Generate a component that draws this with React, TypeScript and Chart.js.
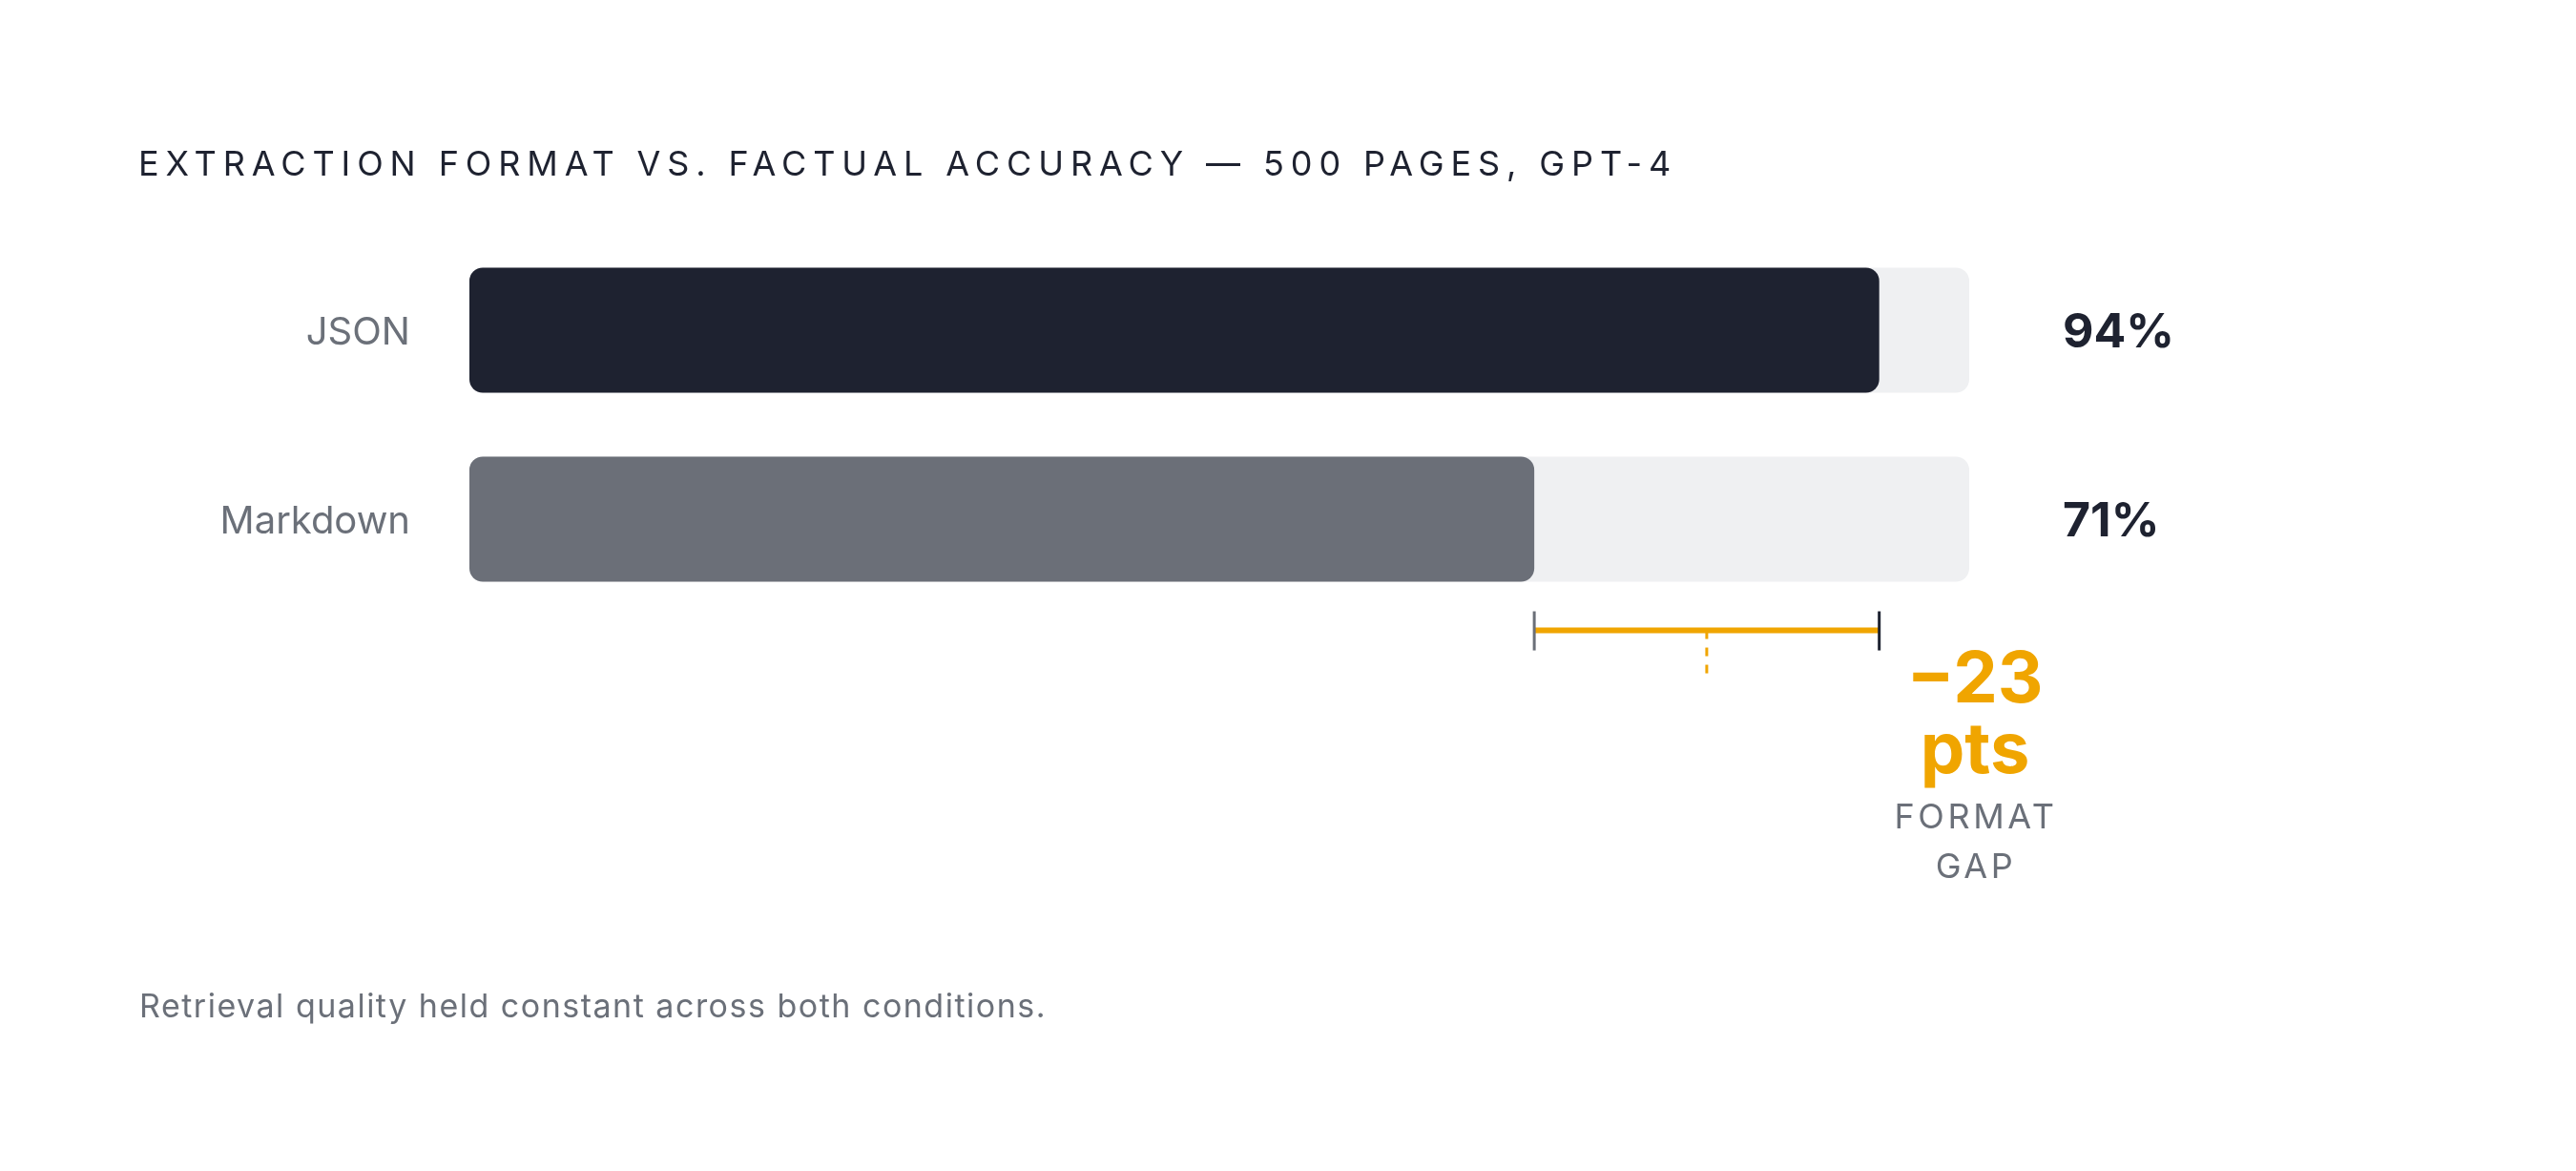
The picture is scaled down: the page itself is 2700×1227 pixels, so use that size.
import React, { useRef, useEffect } from "react";
import { Chart, registerables } from "chart.js";

Chart.register(...registerables);

const categories = ["JSON", "Markdown"];
const accuracy = [94, 71];
const trackMax = [100, 100];
const valueLabels = ["94%", "71%"];
const barColors = ["#1e2230", "#6b6f78"];

const titleText = "EXTRACTION FORMAT VS. FACTUAL ACCURACY — 500 PAGES, GPT-4";
const footnoteText = "Retrieval quality held constant across both conditions.";
const gapLabel = "\u2212" + (accuracy[0] - accuracy[1]);
const gapUnit = "pts";
const gapCaption = ["FORMAT", "GAP"];

const INK = "#1e2230";
const MUTED = "#6b7079";
const GOLD = "#f0a500";
const TRACK = "#eff0f2";
const FONT = "Inter, 'Noto Sans', sans-serif";

const overlayPlugin = {
  id: "overlay",
  afterDraw(chart: any) {
    const ctx = chart.ctx as CanvasRenderingContext2D;
    const x = chart.scales.x;
    const y = chart.scales.y;
    const area = chart.chartArea;
    ctx.save();

    // title
    ctx.fillStyle = INK;
    ctx.font = `400 36px ${FONT}`;
    (ctx as any).letterSpacing = "6.9px";
    ctx.textAlign = "left";
    ctx.textBaseline = "alphabetic";
    ctx.fillText(titleText, 145, 184);
    (ctx as any).letterSpacing = "0px";

    // category labels + values
    categories.forEach((c, i) => {
      const cy = y.getPixelForValue(i);
      ctx.fillStyle = MUTED;
      ctx.font = `400 40px ${FONT}`;
      ctx.textAlign = "right";
      ctx.fillText(c, area.left - 62, cy + 15);
      ctx.fillStyle = INK;
      ctx.font = `700 50px ${FONT}`;
      ctx.textAlign = "left";
      ctx.fillText(valueLabels[i], area.right + 98, cy + 18);
    });

    // gap bracket
    const meta = chart.getDatasetMeta(0);
    const lowBar = meta.data[1];
    const by = lowBar.y + lowBar.height / 2 + 51;
    const xl = x.getPixelForValue(accuracy[1]);
    const xr = x.getPixelForValue(accuracy[0]);
    const xm = x.getPixelForValue((accuracy[0] + accuracy[1]) / 2);

    ctx.strokeStyle = GOLD;
    ctx.lineWidth = 3;
    ctx.setLineDash([9, 9]);
    ctx.beginPath();
    ctx.moveTo(xm, by);
    ctx.lineTo(xm, by + 45);
    ctx.stroke();
    ctx.setLineDash([]);

    ctx.lineWidth = 6;
    ctx.beginPath();
    ctx.moveTo(xl, by);
    ctx.lineTo(xr, by);
    ctx.stroke();

    ctx.lineWidth = 3;
    ctx.strokeStyle = barColors[1];
    ctx.beginPath();
    ctx.moveTo(xl, by - 20);
    ctx.lineTo(xl, by + 21);
    ctx.stroke();
    ctx.strokeStyle = barColors[0];
    ctx.beginPath();
    ctx.moveTo(xr, by - 20);
    ctx.lineTo(xr, by + 21);
    ctx.stroke();

    // gap annotation
    const ax = x.getPixelForValue(100) + 6;
    ctx.textAlign = "center";
    ctx.fillStyle = GOLD;
    ctx.font = `700 74px ${FONT}`;
    ctx.fillText(gapLabel, ax, by + 75);
    ctx.fillText(gapUnit, ax, by + 149);
    ctx.fillStyle = MUTED;
    ctx.font = `400 36px ${FONT}`;
    (ctx as any).letterSpacing = "3.6px";
    ctx.fillText(gapCaption[0], ax + 1, by + 207);
    ctx.fillText(gapCaption[1], ax + 1, by + 259);
    (ctx as any).letterSpacing = "0px";

    // footnote
    ctx.textAlign = "left";
    ctx.font = `400 34px ${FONT}`;
    (ctx as any).letterSpacing = "1.5px";
    ctx.fillText(footnoteText, 146, 1066);
    (ctx as any).letterSpacing = "0px";

    ctx.restore();
  },
};

const App: React.FC = () => {
  const chartRef = useRef<HTMLCanvasElement | null>(null);
  const chartInstanceRef = useRef<Chart | null>(null);

  useEffect(() => {
    document.body.style.margin = "0";
    if (!chartRef.current) return;
    const ctx = chartRef.current.getContext("2d");
    if (!ctx) return;
    if (chartInstanceRef.current) chartInstanceRef.current.destroy();

    chartInstanceRef.current = new Chart(ctx, {
      type: "bar",
      data: {
        labels: categories,
        datasets: [
          {
            label: "Accuracy",
            data: accuracy,
            backgroundColor: barColors,
            borderRadius: 14,
            borderSkipped: false,
            grouped: false,
            barPercentage: 0.662,
            categoryPercentage: 1,
          },
          {
            label: "Track",
            data: trackMax,
            backgroundColor: TRACK,
            borderRadius: 14,
            borderSkipped: false,
            grouped: false,
            barPercentage: 0.662,
            categoryPercentage: 1,
          },
        ],
      },
      options: {
        indexAxis: "y",
        responsive: false,
        animation: false,
        devicePixelRatio: 1,
        layout: { padding: { left: 492, right: 636, top: 247, bottom: 584 } },
        scales: {
          x: { type: "linear", min: 0, max: 100, display: false },
          y: { type: "category", display: false, offset: true },
        },
        plugins: {
          legend: { display: false },
          tooltip: { enabled: false },
        },
      },
      plugins: [overlayPlugin],
    } as any);

    return () => {
      if (chartInstanceRef.current) {
        chartInstanceRef.current.destroy();
        chartInstanceRef.current = null;
      }
    };
  }, []);

  return (
    <div style={{ width: 2700, height: 1227, background: "#ffffff" }}>
      <canvas ref={chartRef} width={2700} height={1227}></canvas>
    </div>
  );
};

export default App;
